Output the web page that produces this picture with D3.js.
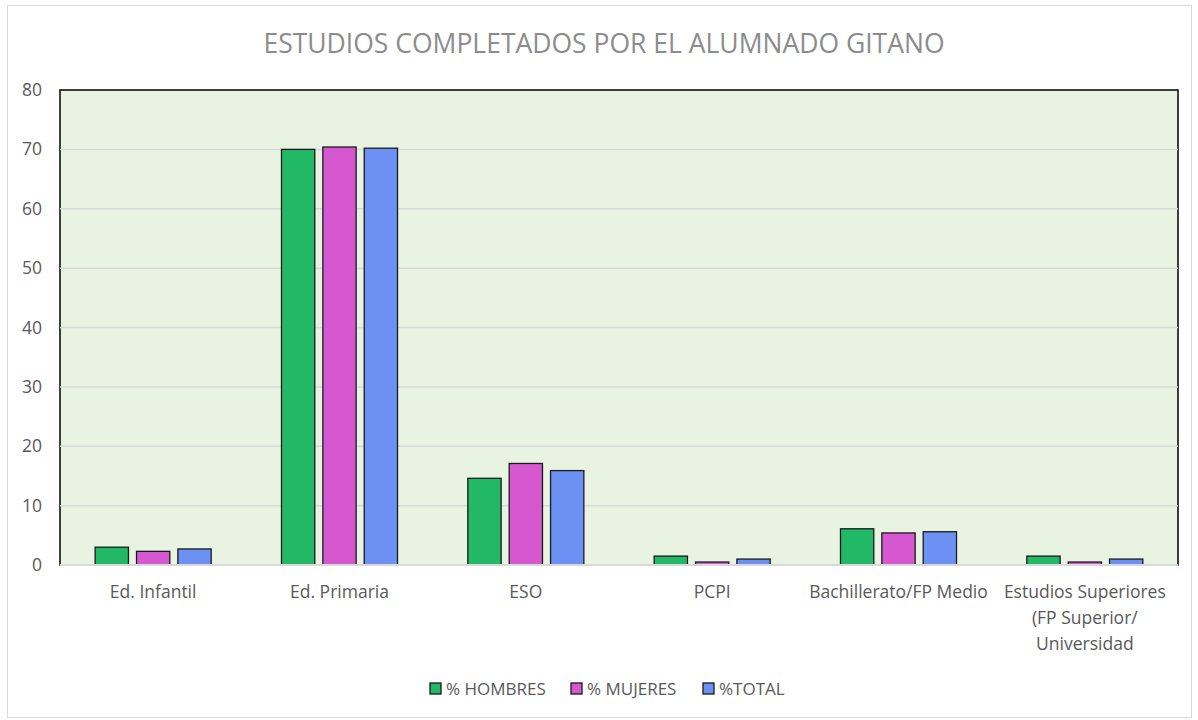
<!DOCTYPE html>
<html>
<head>
<meta charset="utf-8">
<script src="https://cdn.jsdelivr.net/npm/d3@7"></script>
<style>
  body { margin: 0; background: #fff; }
  svg { font-family: "Open Sans", "Noto Sans", sans-serif; }
</style>
</head>
<body>
<div id="chart"></div>
<script>
// data
const categories = [
  ["Ed. Infantil"],
  ["Ed. Primaria"],
  ["ESO"],
  ["PCPI"],
  ["Bachillerato/FP Medio"],
  ["Estudios Superiores", "(FP Superior/", "Universidad"]
];
const seriesNames = ["% HOMBRES", "% MUJERES", "%TOTAL"];
const hombres = [3.0, 70.0, 14.6, 1.5, 6.1, 1.5];
const mujeres = [2.3, 70.4, 17.1, 0.5, 5.4, 0.5];
const total = [2.7, 70.2, 15.9, 1.0, 5.6, 1.0];
const yTicks = [0, 10, 20, 30, 40, 50, 60, 70, 80];
const colors = ["#21b866", "#d558d0", "#6d90f5"];

const width = 1198, height = 720;
const margin = { top: 90, right: 20, bottom: 155, left: 60 };

const svg = d3.select('#chart').append('svg')
  .attr('width', width)
  .attr('height', height);

// outer chart frame
svg.append('rect')
  .attr('x', 7.5).attr('y', 5.5)
  .attr('width', 1184).attr('height', 712)
  .attr('fill', '#fff')
  .attr('stroke', '#d9d9d9');

const x0 = d3.scaleBand()
  .domain(d3.range(categories.length))
  .range([margin.left, width - margin.right]);

const x1 = d3.scaleBand()
  .domain(d3.range(seriesNames.length))
  .range([0, x0.bandwidth()])
  .paddingInner(0.195)
  .paddingOuter(0.85);

const y = d3.scaleLinear()
  .domain([0, 80])
  .range([height - margin.bottom, margin.top]);

// plot area
svg.append('rect')
  .attr('x', margin.left).attr('y', margin.top)
  .attr('width', width - margin.left - margin.right)
  .attr('height', y(0) - margin.top)
  .attr('fill', '#e8f3e1')
  .attr('stroke', '#000')
  .attr('stroke-width', 1.5);

// gridlines
svg.append('g')
  .selectAll('line')
  .data(yTicks.filter(d => d > 0 && d < 80))
  .enter().append('line')
  .attr('x1', margin.left).attr('x2', width - margin.right)
  .attr('y1', d => y(d)).attr('y2', d => y(d))
  .attr('stroke', '#d9d9d9')
  .attr('stroke-width', 1.5);

// y axis labels
const yAxis = svg.append('g')
  .attr('transform', `translate(${margin.left},0)`)
  .call(d3.axisLeft(y).tickValues(yTicks).tickSize(0).tickPadding(18));
yAxis.select('.domain').remove();
yAxis.selectAll('text')
  .style('font-size', '17.5px')
  .style('fill', '#595959')
  .style('font-family', '"Open Sans", sans-serif');

// bars
const seriesData = [hombres, mujeres, total];
const groups = svg.append('g')
  .selectAll('g')
  .data(categories)
  .enter().append('g')
  .attr('transform', (d, i) => `translate(${x0(i)},0)`);

groups.selectAll('rect')
  .data((d, i) => seriesData.map((s, k) => ({ k: k, v: s[i] })))
  .enter().append('rect')
  .attr('x', d => x1(d.k))
  .attr('y', d => y(d.v))
  .attr('width', x1.bandwidth())
  .attr('height', d => y(0) - y(d.v))
  .attr('fill', d => colors[d.k])
  .attr('stroke', '#1a1a1a')
  .attr('stroke-width', 1.3);

// x axis line
svg.append('line')
  .attr('x1', margin.left).attr('x2', width - margin.right)
  .attr('y1', y(0)).attr('y2', y(0))
  .attr('stroke', '#d9d9d9')
  .attr('stroke-width', 2);

// x labels
const xLabels = svg.append('g')
  .selectAll('text')
  .data(categories)
  .enter().append('text')
  .attr('x', (d, i) => x0(i) + x0.bandwidth() / 2)
  .attr('y', y(0) + 33)
  .attr('text-anchor', 'middle')
  .style('font-size', '17.5px')
  .style('fill', '#595959');

xLabels.selectAll('tspan')
  .data(d => d)
  .enter().append('tspan')
  .attr('x', function () { return d3.select(this.parentNode).attr('x'); })
  .attr('dy', (d, i) => i === 0 ? 0 : 26)
  .text(d => d);

// title
svg.append('text')
  .attr('x', 604)
  .attr('y', 53)
  .attr('text-anchor', 'middle')
  .style('font-size', '26.5px')
  .style('fill', '#8c8c8c')
  .text('ESTUDIOS COMPLETADOS POR EL ALUMNADO GITANO');

// legend
const legendX = [430, 571, 703];
const legend = svg.append('g')
  .selectAll('g')
  .data(seriesNames)
  .enter().append('g')
  .attr('transform', (d, i) => `translate(${legendX[i]},683)`);

legend.append('rect')
  .attr('width', 11).attr('height', 11)
  .attr('fill', (d, i) => colors[i])
  .attr('stroke', '#1a1a1a')
  .attr('stroke-width', 1.3);

legend.append('text')
  .attr('x', 16)
  .attr('y', 12)
  .style('font-size', '17px')
  .style('fill', '#595959')
  .text(d => d);
</script>
</body>
</html>
